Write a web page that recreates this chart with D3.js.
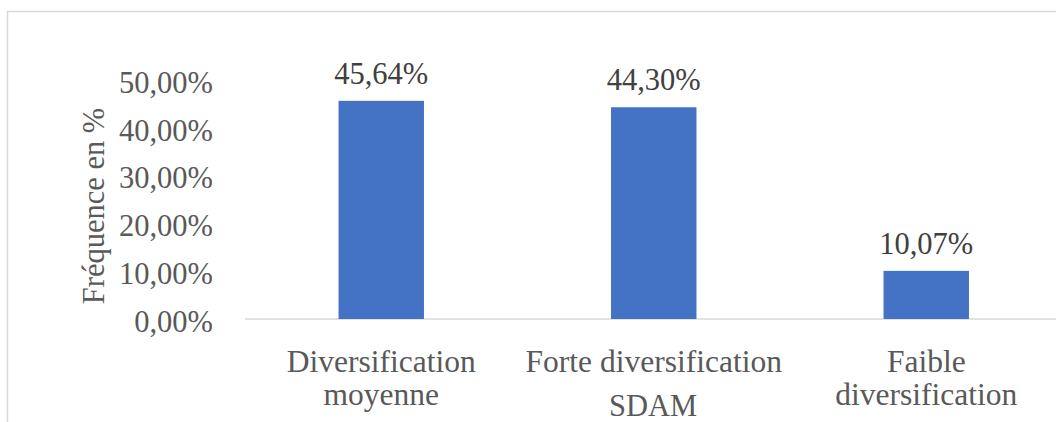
<!DOCTYPE html>
<html>
<head>
<meta charset="utf-8">
<script src="https://cdn.jsdelivr.net/npm/d3@7"></script>
<style>
  body { margin: 0; background: #fff; }
</style>
</head>
<body>
<div class="container"></div>
<script>
const w = 1056;
const h = 422;
const FONT = '"Liberation Serif", "Times New Roman", serif';

const categories = ['Diversification moyenne', 'Forte diversification', 'Faible diversification'];
const values = [0.4564, 0.4430, 0.1007];
const yTicks = [0, 0.1, 0.2, 0.3, 0.4, 0.5];
const yTitle = 'Fréquence en %';
const xTitle = 'SDAM';

const fmt = (v) => (v * 100).toFixed(2).replace('.', ',') + '%';

let svg = null;

window.onload = () => {
  setSvg();
  drawFrame();
  drawAxes();
  drawBars();
  addLabels();
};

const x = d3.scaleBand()
  .domain(categories)
  .range([245, 1062.5])
  .paddingInner(0.6865)
  .paddingOuter(0.6865 / 2);

const y = d3.scaleLinear().domain([0, 0.5]).range([319, 80]);

function setSvg() {
  svg = d3.select('.container').append('svg')
    .attr('width', w)
    .attr('height', h)
    .style('font-family', FONT);
}

function drawFrame() {
  svg.append('rect')
    .attr('x', 7.5)
    .attr('y', 11.5)
    .attr('width', w + 20)
    .attr('height', h + 20)
    .attr('fill', '#fff')
    .attr('stroke', '#d9d9d9')
    .attr('stroke-width', 1.5);
}

function addText(sel) {
  return sel.append('text').style('font-family', FONT);
}

function drawAxes() {
  const yAxis = svg.append('g')
    .attr('transform', 'translate(245,0)')
    .call(d3.axisLeft(y).tickValues(yTicks).tickFormat(fmt).tickSize(0).tickPadding(32));
  yAxis.attr('font-family', null);
  yAxis.select('.domain').remove();
  yAxis.selectAll('text')
    .style('font-family', FONT)
    .attr('font-size', '30.5px')
    .attr('fill', '#595959')
    .attr('dy', '0.4em');

  const xAxis = svg.append('g')
    .attr('transform', 'translate(0,319)')
    .call(d3.axisBottom(x).tickSize(0).tickFormat(''));
  xAxis.select('.domain')
    .attr('stroke', '#d9d9d9')
    .attr('stroke-width', 1.5)
    .attr('d', 'M245,0H1062');

  // category labels, wrapped to the band width like Excel
  const maxW = 267;
  categories.forEach((c) => {
    const cx = x(c) + x.bandwidth() / 2;
    const t = addText(svg)
      .attr('x', cx)
      .attr('y', 372)
      .attr('text-anchor', 'middle')
      .attr('font-size', '31.5px')
      .attr('fill', '#595959');
    let line = [];
    let tspan = t.append('tspan').attr('x', cx);
    c.split(' ').forEach((word) => {
      line.push(word);
      tspan.text(line.join(' '));
      if (tspan.node().getComputedTextLength() > maxW && line.length > 1) {
        line.pop();
        tspan.text(line.join(' '));
        line = [word];
        tspan = t.append('tspan').attr('x', cx).attr('dy', 33).text(word);
      }
    });
  });

  addText(svg)
    .attr('transform', 'translate(104,206) rotate(-90)')
    .attr('text-anchor', 'middle')
    .attr('font-size', '30.5px')
    .attr('fill', '#595959')
    .text(yTitle);

  addText(svg)
    .attr('x', 653)
    .attr('y', 416)
    .attr('text-anchor', 'middle')
    .attr('font-size', '30.5px')
    .attr('fill', '#595959')
    .text(xTitle);
}

function drawBars() {
  svg.selectAll('rect.bar')
    .data(values)
    .enter()
    .append('rect')
    .attr('class', 'bar')
    .attr('x', (d, i) => x(categories[i]))
    .attr('y', (d) => y(d))
    .attr('width', x.bandwidth())
    .attr('height', (d) => y(0) - y(d))
    .attr('fill', '#4472c4');
}

function addLabels() {
  svg.selectAll('text.val')
    .data(values)
    .enter()
    .append('text')
    .attr('class', 'val')
    .style('font-family', FONT)
    .attr('x', (d, i) => x(categories[i]) + x.bandwidth() / 2)
    .attr('y', (d) => y(d) - 17)
    .attr('text-anchor', 'middle')
    .attr('font-size', '30.5px')
    .attr('fill', '#404040')
    .text(fmt);
}
</script>
</body>
</html>
